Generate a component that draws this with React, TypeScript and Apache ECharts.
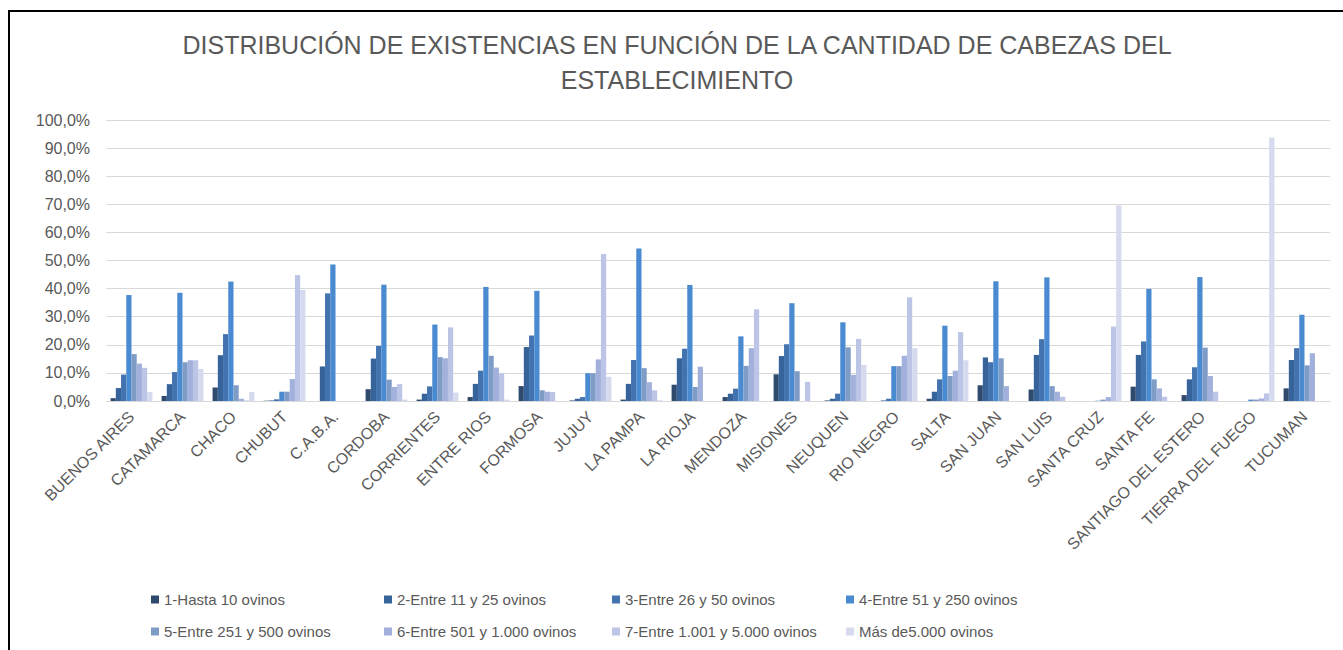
import React, { useEffect, useRef } from "react";
import * as echarts from "echarts";

const provincias = [
  "BUENOS AIRES", "CATAMARCA", "CHACO", "CHUBUT", "C.A.B.A.", "CORDOBA", "CORRIENTES", "ENTRE RIOS",
  "FORMOSA", "JUJUY", "LA PAMPA", "LA RIOJA", "MENDOZA", "MISIONES", "NEUQUEN", "RIO NEGRO",
  "SALTA", "SAN JUAN", "SAN LUIS", "SANTA CRUZ", "SANTA FE", "SANTIAGO DEL ESTERO", "TIERRA DEL FUEGO", "TUCUMAN",
];

const estratos = [
  "1-Hasta 10 ovinos",
  "2-Entre 11 y 25 ovinos",
  "3-Entre 26 y 50 ovinos",
  "4-Entre 51 y 250 ovinos",
  "5-Entre 251 y 500 ovinos",
  "6-Entre 501 y 1.000 ovinos",
  "7-Entre 1.001 y 5.000 ovinos",
  "Más de5.000 ovinos",
];

const hasta10 = [1.0, 1.8, 4.8, 0.1, 0, 4.2, 0.5, 1.4, 5.3, 0.2, 0.5, 5.8, 1.4, 9.5, 0.2, 0, 0.8, 5.6, 4.1, 0, 5.1, 2.1, 0, 4.5];
const de11a25 = [4.6, 6.0, 16.3, 0.2, 12.3, 15.1, 2.6, 6.1, 19.2, 0.8, 6.1, 15.2, 2.6, 16.0, 0.8, 0.2, 3.3, 15.5, 16.4, 0, 16.4, 7.7, 0, 14.6];
const de26a50 = [9.4, 10.3, 23.8, 0.6, 38.3, 19.6, 5.2, 10.8, 23.3, 1.4, 14.6, 18.6, 4.4, 20.2, 2.6, 0.8, 7.7, 13.8, 22.0, 0, 21.2, 12.0, 0, 18.8];
const de51a250 = [37.7, 38.5, 42.5, 3.3, 48.6, 41.4, 27.2, 40.6, 39.2, 9.9, 54.3, 41.3, 23.0, 34.8, 28.0, 12.4, 26.8, 42.6, 44.0, 0.1, 39.9, 44.1, 0.5, 30.7];
const de251a500 = [16.7, 13.8, 5.6, 3.3, 0, 7.6, 15.6, 16.1, 3.8, 9.9, 11.7, 5.0, 12.5, 10.6, 19.1, 12.4, 8.9, 15.2, 5.3, 0.5, 7.7, 19.0, 0.5, 12.7];
const de501a1000 = [13.3, 14.5, 0.8, 7.8, 0, 5.0, 15.2, 11.9, 3.3, 14.8, 6.7, 12.2, 18.8, 0, 9.3, 16.1, 10.8, 5.3, 3.3, 1.4, 4.5, 8.9, 0.9, 17.0];
const de1001a5000 = [11.8, 14.5, 0.2, 44.8, 0, 6.0, 26.2, 9.8, 3.2, 52.3, 3.8, 0, 32.6, 6.8, 22.1, 36.9, 24.5, 0, 1.5, 26.5, 1.5, 3.3, 2.7, 0];
const masDe5000 = [3.2, 11.4, 3.2, 39.5, 0, 0.5, 3.0, 0.5, 0, 8.6, 0.3, 0, 0, 0, 12.8, 18.8, 14.5, 0, 0, 69.6, 0, 0, 93.8, 0];

const seriesValues = [hasta10, de11a25, de26a50, de51a250, de251a500, de501a1000, de1001a5000, masDe5000];

const colores = ["#2F4A6D", "#36639A", "#4273AE", "#4A8AD0", "#7F9CC6", "#A2B0DC", "#BCC5E6", "#D5DAEF"];

const legendPos = [
  [146, 587], [379, 587], [607, 587], [841, 587],
  [146, 619], [379, 619], [607, 619], [841, 619],
];

const FONT = "'Liberation Sans', Arial, sans-serif";

export default function App() {
  const ref = useRef<HTMLDivElement>(null);

  useEffect(() => {
    if (!ref.current) return;
    const chart = echarts.init(ref.current, undefined, { renderer: "svg" });
    const option: any = {
      animation: false,
      backgroundColor: "#ffffff",
      color: colores,
      title: {
        text: "DISTRIBUCIÓN DE EXISTENCIAS EN FUNCIÓN DE LA CANTIDAD DE CABEZAS DEL\nESTABLECIMIENTO",
        left: 672,
        top: 22,
        textAlign: "center",
        textStyle: {
          fontFamily: FONT,
          fontSize: 25,
          fontWeight: "normal",
          color: "#595959",
          lineHeight: 35,
        },
      },
      legend: estratos.map((name, i) => ({
        data: [name],
        left: legendPos[i][0],
        top: legendPos[i][1],
        itemWidth: 8,
        itemHeight: 8,
        itemGap: 4,
        icon: "rect",
        selectedMode: false,
        textStyle: { fontFamily: FONT, fontSize: 15, color: "#595959" },
      })),
      grid: { left: 106, right: 13, top: 120, bottom: 249, containLabel: false },
      xAxis: {
        type: "category",
        data: provincias,
        axisTick: { show: false },
        axisLine: { lineStyle: { color: "#d9d9d9", width: 1 } },
        axisLabel: {
          interval: 0,
          rotate: 45,
          margin: 13,
          fontFamily: FONT,
          fontSize: 16,
          color: "#595959",
        },
      },
      yAxis: {
        type: "value",
        min: 0,
        max: 100,
        interval: 10,
        axisLine: { show: false },
        axisTick: { show: false },
        splitLine: { lineStyle: { color: "#d9d9d9", width: 1 } },
        axisLabel: {
          margin: 16,
          fontFamily: FONT,
          fontSize: 16,
          color: "#595959",
          formatter: (v: number) => v.toFixed(1).replace(".", ",") + "%",
        },
      },
      series: estratos.map((name, i) => ({
        name,
        type: "bar",
        data: seriesValues[i],
        barGap: "0%",
        barCategoryGap: "18%",
        itemStyle: { color: colores[i] },
      })),
    };
    chart.setOption(option);
    return () => chart.dispose();
  }, []);

  return (
    <div style={{ position: "fixed", left: 0, top: 0, width: 1343, height: 650, overflow: "hidden", background: "#fff" }}>
      <div ref={ref} style={{ position: "absolute", left: 0, top: 0, width: 1343, height: 650 }} />
      <div
        style={{
          position: "absolute",
          left: 8,
          top: 10,
          width: 1400,
          height: 700,
          border: "2px solid #000",
          pointerEvents: "none",
        }}
      />
    </div>
  );
}
